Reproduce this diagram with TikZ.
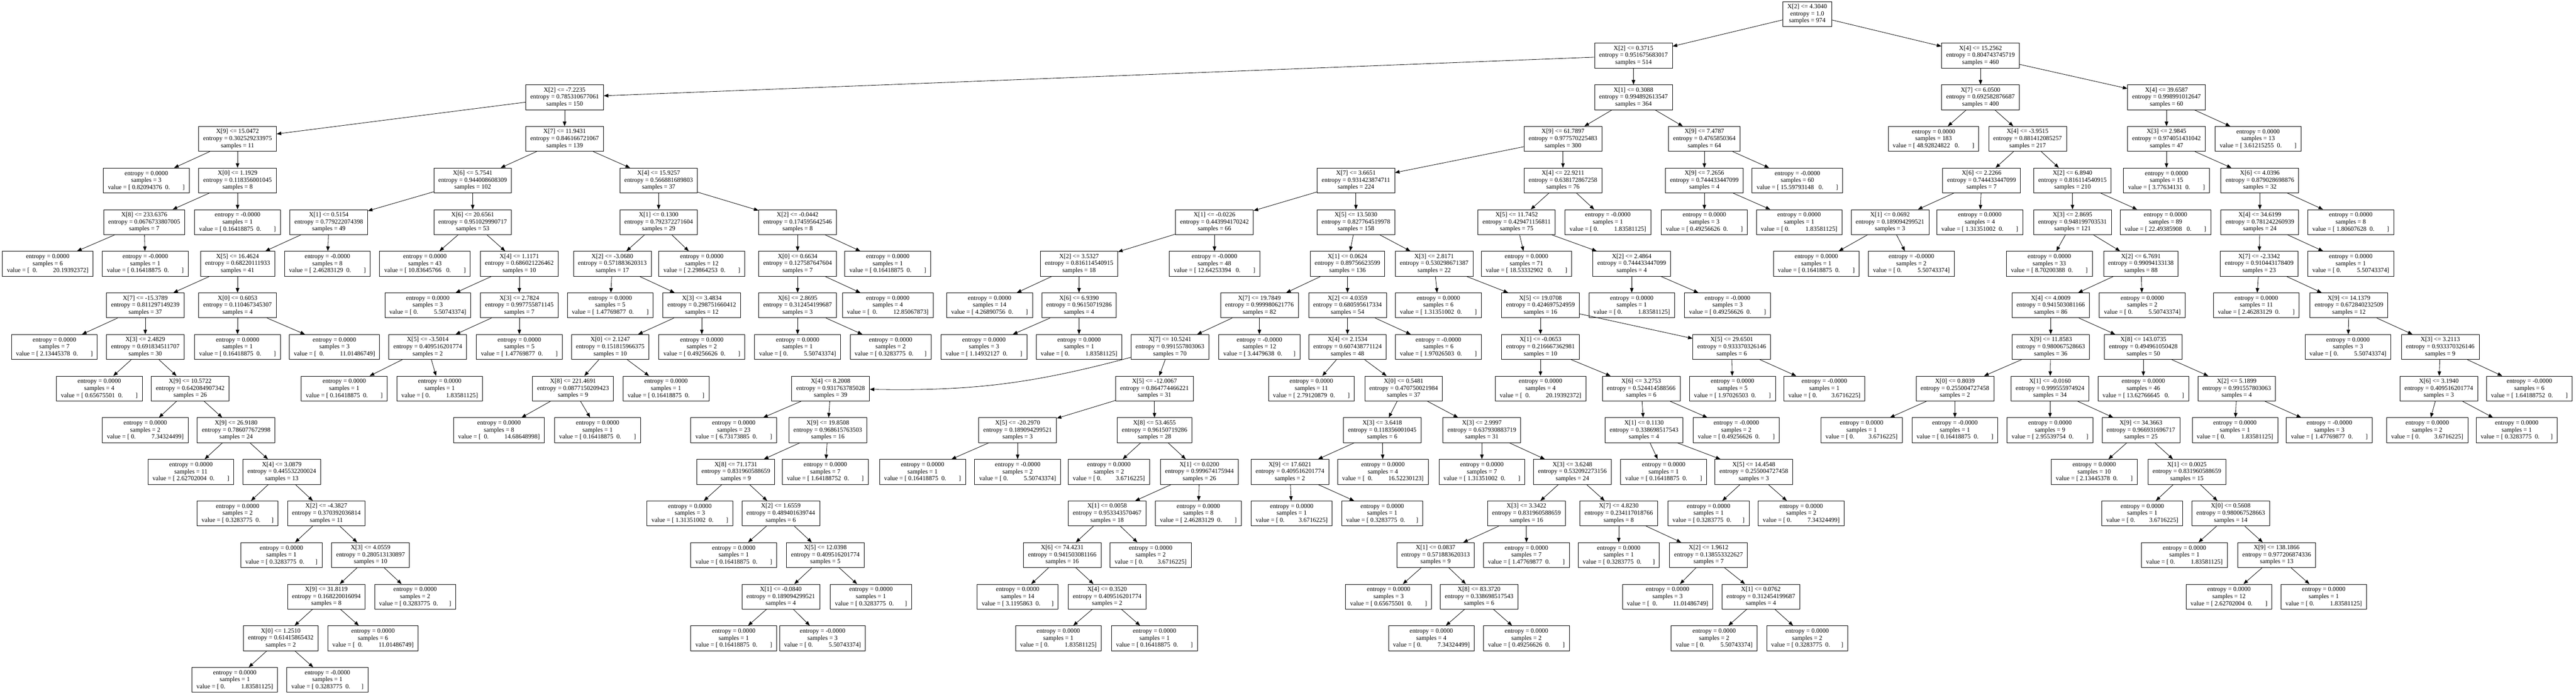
\documentclass[tikz,border=0pt]{standalone}
\usepackage{fontspec}
\setmainfont{Liberation Serif}
\usepackage{xstring}
\usetikzlibrary{arrows.meta}

\tikzset{
  tbox/.style={draw, rectangle, line width=1.3pt, align=center,
    inner xsep=13pt, inner ysep=0pt, minimum height=71pt,
    font=\fontsize{18}{20}\selectfont},
  link/.style={line width=1.2pt, -{Triangle[length=13pt,width=10pt]}}
}

% decision node and leaf node of the tree
\newcommand{\splitnd}[7]{\node[tbox] (#1) at (#2,#3) {X[#4] <= #5\\entropy = #6\\samples = #7};}
\newcommand{\leafnd}[6]{\node[tbox] (#1) at (#2,#3) {entropy = #4\\samples = #5\\value = [#6]};}

\begin{document}
\begin{tikzpicture}[x=1pt, y=-118.6pt]
\useasboundingbox (0,-0.3373) rectangle (7341,16.357);

% level 0 - 2
\splitnd{r}{5150}{0}{2}{4.3040}{1.0}{974}
\splitnd{ra}{4655}{1}{2}{0.3715}{0.951675683017}{514}
\splitnd{rb}{5644}{1}{4}{15.2562}{0.804743745719}{460}
\splitnd{ra1}{1609}{2}{2}{-7.2235}{0.785310677061}{150}
\splitnd{ra2}{4655}{2}{1}{0.3088}{0.994892613547}{364}
\splitnd{rb1}{5644}{2}{7}{6.0500}{0.692582876687}{400}
\splitnd{rb2}{6174}{2}{4}{39.6587}{0.998991012647}{60}

% level 3
\splitnd{ra1a}{677}{3}{9}{15.0472}{0.302529233975}{11}
\splitnd{ra1b}{1609}{3}{7}{11.9431}{0.846166721067}{139}
\splitnd{ra2a}{4454}{3}{9}{61.7897}{0.977570225483}{300}
\splitnd{ra2b}{4857}{3}{9}{7.4787}{0.4765850364}{64}
\leafnd{rb1a}{5510}{3}{0.0000}{183}{~48.92824822~~~0.~~~~~~~~}
\splitnd{rb1b}{5778}{3}{4}{-3.9515}{0.881412085257}{217}
\splitnd{rb2a}{6174}{3}{3}{2.9845}{0.974051431042}{47}
\leafnd{rb2b}{6435}{3}{0.0000}{13}{~3.61215255~~0.~~~~~~~~}

% level 4
\leafnd{ra1a1}{417}{4}{0.0000}{3}{~0.82094376~~0.~~~~~~~~}
\splitnd{ra1a2}{677}{4}{0}{1.1929}{0.118356001045}{8}
\splitnd{ra1b1}{1347}{4}{6}{5.7541}{0.944008608309}{102}
\splitnd{ra1b2}{1877}{4}{4}{15.9257}{0.566881689803}{37}
\splitnd{ra2a1}{3864}{4}{7}{3.6651}{0.931423874711}{224}
\splitnd{ra2a2}{4454}{4}{4}{22.9211}{0.638172867258}{76}
\splitnd{ra2b1}{4857}{4}{9}{7.2656}{0.744433447099}{4}
\leafnd{ra2b2}{5122}{4}{-0.0000}{60}{~15.59793148~~~0.~~~~~~~~}
\splitnd{rb1b1}{5647}{4}{6}{2.2266}{0.744433447099}{7}
\splitnd{rb1b2}{5906}{4}{2}{6.8940}{0.816114540915}{210}
\leafnd{rb2a1}{6174}{4}{0.0000}{15}{~3.77634131~~0.~~~~~~~~}
\splitnd{rb2a2}{6440}{4}{6}{4.0396}{0.879028698876}{32}

% level 5
\splitnd{ra1a2a}{411}{5}{8}{233.6376}{0.0676733807005}{7}
\leafnd{ra1a2b}{677}{5}{-0.0000}{1}{~0.16418875~~0.~~~~~~~~}
\splitnd{ra1b1a}{937}{5}{1}{0.5154}{0.779222074398}{49}
\splitnd{ra1b1b}{1347}{5}{6}{20.6561}{0.951029990717}{53}
\splitnd{ra1b2a}{1877}{5}{1}{0.1300}{0.792372271604}{29}
\splitnd{ra1b2b}{2273}{5}{2}{-0.0442}{0.174595642546}{8}
\splitnd{ra2a1a}{3461}{5}{1}{-0.0226}{0.443994170242}{66}
\splitnd{ra2a1b}{3864}{5}{5}{13.5030}{0.827764519978}{158}
\splitnd{ra2a2a}{4322}{5}{5}{11.7452}{0.429471156811}{75}
\leafnd{ra2a2b}{4582}{5}{-0.0000}{1}{~0.~~~~~~~~~~1.83581125}
\leafnd{ra2b1a}{4857}{5}{0.0000}{3}{~0.49256626~~0.~~~~~~~~}
\leafnd{ra2b1b}{5127}{5}{0.0000}{1}{~0.~~~~~~~~~~1.83581125}
\splitnd{rb1b1a}{5386}{5}{1}{0.0692}{0.189094299521}{3}
\leafnd{rb1b1b}{5642}{5}{0.0000}{4}{~1.31351002~~0.~~~~~~~~}
\splitnd{rb1b2a}{5906}{5}{3}{2.8695}{0.948199703531}{121}
\leafnd{rb1b2b}{6171}{5}{0.0000}{89}{~22.49385908~~~0.~~~~~~~~}
\splitnd{rb2a2a}{6440}{5}{4}{34.6199}{0.781242260939}{24}
\leafnd{rb2a2b}{6699}{5}{0.0000}{8}{~1.80607628~~0.~~~~~~~~}

% level 6
\leafnd{ra1a2a1}{136}{6}{0.0000}{6}{~~0.~~~~~~~~~~20.19392372}
\leafnd{ra1a2a2}{414}{6}{-0.0000}{1}{~0.16418875~~0.~~~~~~~~}
\splitnd{ra1b1a1}{677}{6}{5}{16.4624}{0.68220111933}{41}
\leafnd{ra1b1a2}{933}{6}{-0.0000}{8}{~2.46283129~~0.~~~~~~~~}
\leafnd{ra1b1b1}{1211}{6}{0.0000}{43}{~10.83645766~~~0.~~~~~~~~}
\splitnd{ra1b1b2}{1480}{6}{4}{1.1171}{0.686021226462}{10}
\splitnd{ra1b2a1}{1745}{6}{2}{-3.0680}{0.571883620313}{17}
\leafnd{ra1b2a2}{2000}{6}{0.0000}{12}{~2.29864253~~0.~~~~~~~~}
\splitnd{ra1b2b1}{2273}{6}{0}{0.6634}{0.127587647604}{7}
\leafnd{ra1b2b2}{2530}{6}{0.0000}{1}{~0.16418875~~0.~~~~~~~~}
\splitnd{ra2a1a1}{3075}{6}{2}{3.5327}{0.816114540915}{18}
\leafnd{ra2a1a2}{3461}{6}{-0.0000}{48}{~12.64253394~~~0.~~~~~~~~}
\splitnd{ra2a1b1}{3840}{6}{1}{0.0624}{0.89756623599}{136}
\splitnd{ra2a1b2}{4087}{6}{3}{2.8171}{0.530298671387}{22}
\leafnd{ra2a2a1}{4350}{6}{0.0000}{71}{~18.53332902~~~0.~~~~~~~~}
\splitnd{ra2a2a2}{4650}{6}{2}{2.4864}{0.744433447099}{4}
\leafnd{rb1b1a1}{5176}{6}{0.0000}{1}{~0.16418875~~0.~~~~~~~~}
\leafnd{rb1b1a2}{5447}{6}{-0.0000}{2}{~0.~~~~~~~~~~5.50743374}
\leafnd{rb1b2a1}{5840}{6}{0.0000}{33}{~8.70200388~~0.~~~~~~~~}
\splitnd{rb1b2a2}{6101}{6}{2}{6.7691}{0.99094133138}{88}
\splitnd{rb2a2a1}{6438}{6}{7}{-2.3342}{0.910443178409}{23}
\leafnd{rb2a2a2}{6699}{6}{0.0000}{1}{~0.~~~~~~~~~~5.50743374}

% level 7
\splitnd{ra1b1a1a}{414}{7}{7}{-15.3789}{0.811297149239}{37}
\splitnd{ra1b1a1b}{677}{7}{0}{0.6053}{0.110467345307}{4}
\leafnd{ra1b1b2a}{1219}{7}{0.0000}{3}{~0.~~~~~~~~~~5.50743374}
\splitnd{ra1b1b2b}{1480}{7}{3}{2.7824}{0.997755871145}{7}
\leafnd{ra1b2a1a}{1739}{7}{0.0000}{5}{~1.47769877~~0.~~~~~~~~}
\splitnd{ra1b2a1b}{2000}{7}{3}{3.4834}{0.298751660412}{12}
\splitnd{ra1b2b1a}{2273}{7}{6}{2.8695}{0.312454199687}{3}
\leafnd{ra1b2b1b}{2530}{7}{0.0000}{4}{~~0.~~~~~~~~~~12.85067873}
\leafnd{ra2a1a1a}{2820}{7}{0.0000}{14}{~4.26890756~~0.~~~~~~~~}
\splitnd{ra2a1a1b}{3075}{7}{6}{6.9390}{0.96150719286}{4}
\splitnd{ra2a1b1a}{3589}{7}{7}{19.7849}{0.999980621776}{82}
\splitnd{ra2a1b1b}{3840}{7}{2}{4.0359}{0.680595617334}{54}
\leafnd{ra2a1b2a}{4099}{7}{0.0000}{6}{~1.31351002~~0.~~~~~~~~}
\splitnd{ra2a1b2b}{4390}{7}{5}{19.0708}{0.424697524959}{16}
\leafnd{ra2a2a2a}{4650}{7}{0.0000}{1}{~0.~~~~~~~~~~1.83581125}
\leafnd{ra2a2a2b}{4923}{7}{-0.0000}{3}{~0.49256626~~0.~~~~~~~~}
\splitnd{rb1b2a2a}{5844}{7}{4}{4.0009}{0.941503081166}{86}
\leafnd{rb1b2a2b}{6105}{7}{0.0000}{2}{~0.~~~~~~~~~~5.50743374}
\leafnd{rb2a2a1a}{6430}{7}{0.0000}{11}{~2.46283129~~0.~~~~~~~~}
\splitnd{rb2a2a1b}{6694}{7}{9}{14.1379}{0.672840232509}{12}

% level 8
\leafnd{ra1b1a1a1}{155}{8}{0.0000}{7}{~2.13445378~~0.~~~~~~~~}
\splitnd{ra1b1a1a2}{414}{8}{3}{2.4829}{0.691834511707}{30}
\leafnd{ra1b1a1b1}{677}{8}{0.0000}{1}{~0.16418875~~0.~~~~~~~~}
\leafnd{ra1b1a1b2}{953}{8}{0.0000}{3}{~~0.~~~~~~~~~~11.01486749}
\splitnd{ra1b1b2b1}{1219}{8}{5}{-3.5014}{0.409516201774}{2}
\leafnd{ra1b1b2b2}{1480}{8}{0.0000}{5}{~1.47769877~~0.~~~~~~~~}
\splitnd{ra1b2a1b1}{1739}{8}{0}{2.1247}{0.151815966375}{10}
\leafnd{ra1b2a1b2}{2000}{8}{0.0000}{2}{~0.49256626~~0.~~~~~~~~}
\leafnd{ra1b2b1a1}{2273}{8}{0.0000}{1}{~0.~~~~~~~~~~5.50743374}
\leafnd{ra1b2b1a2}{2538}{8}{0.0000}{2}{~0.3283775~~0.~~~~~~~}
\leafnd{ra2a1a1b1}{2804}{8}{0.0000}{3}{~1.14932127~~0.~~~~~~~~}
\leafnd{ra2a1a1b2}{3075}{8}{0.0000}{1}{~0.~~~~~~~~~~1.83581125}
\splitnd{ra2a1b1a1}{3334}{8}{7}{10.5241}{0.991557803063}{70}
\leafnd{ra2a1b1a2}{3589}{8}{-0.0000}{12}{~3.4479638~~0.~~~~~~~}
\splitnd{ra2a1b1b1}{3840}{8}{4}{2.1534}{0.607438771124}{48}
\leafnd{ra2a1b1b2}{4099}{8}{-0.0000}{6}{~1.97026503~~0.~~~~~~~~}
\splitnd{ra2a1b2b1}{4390}{8}{1}{-0.0653}{0.216667362981}{10}
\splitnd{ra2a1b2b2}{4935}{8}{5}{29.6501}{0.933370326146}{6}
\splitnd{rb1b2a2a1}{5844}{8}{9}{11.8583}{0.980067528663}{36}
\splitnd{rb1b2a2a2}{6108}{8}{8}{143.0735}{0.494961050428}{50}
\leafnd{rb2a2a1b1}{6691}{8}{0.0000}{3}{~0.~~~~~~~~~~5.50743374}
\splitnd{rb2a2a1b2}{6954}{8}{3}{3.2113}{0.933370326146}{9}

% level 9
\leafnd{ra1b1a1a2a}{283}{9}{0.0000}{4}{~0.65675501~~0.~~~~~~~~}
\splitnd{ra1b1a1a2b}{542}{9}{9}{10.5722}{0.642084907342}{26}
\leafnd{ra1b1b2b1a}{981}{9}{0.0000}{1}{~0.16418875~~0.~~~~~~~~}
\leafnd{ra1b1b2b1b}{1253}{9}{0.0000}{1}{~0.~~~~~~~~~~1.83581125}
\splitnd{ra1b2a1b1a}{1633}{9}{8}{221.4691}{0.0877150209423}{9}
\leafnd{ra1b2a1b1b}{1898}{9}{0.0000}{1}{~0.16418875~~0.~~~~~~~~}
\splitnd{ra2a1b1a1a}{2367}{9}{4}{8.2008}{0.931763785028}{39}
\splitnd{ra2a1b1a1b}{3290}{9}{5}{-12.0067}{0.864774466221}{31}
\leafnd{ra2a1b1b1a}{3737}{9}{0.0000}{11}{~2.79120879~~0.~~~~~~~~}
\splitnd{ra2a1b1b1b}{4000}{9}{0}{0.5481}{0.470750021984}{37}
\leafnd{ra2a1b2b1a}{4390}{9}{0.0000}{4}{~~0.~~~~~~~~~~20.19392372}
\splitnd{ra2a1b2b1b}{4677}{9}{6}{3.2753}{0.524414588566}{6}
\leafnd{ra2a1b2b2a}{4937}{9}{0.0000}{5}{~1.97026503~~0.~~~~~~~~}
\leafnd{ra2a1b2b2b}{5199}{9}{-0.0000}{1}{~0.~~~~~~~~~3.6716225}
\splitnd{rb1b2a2a1a}{5571}{9}{0}{0.8039}{0.255004727458}{2}
\splitnd{rb1b2a2a1b}{5842}{9}{1}{-0.0160}{0.999555974924}{34}
\leafnd{rb1b2a2a2a}{6108}{9}{0.0000}{46}{~13.62766645~~~0.~~~~~~~~}
\splitnd{rb1b2a2a2b}{6374}{9}{2}{5.1899}{0.991557803063}{4}
\splitnd{rb2a2a1b2a}{6950}{9}{6}{3.1940}{0.409516201774}{3}
\leafnd{rb2a2a1b2b}{7208}{9}{-0.0000}{6}{~1.64188752~~0.~~~~~~~~}

% level 10
\leafnd{ra1b1a1a2b1}{414}{10}{0.0000}{2}{~0.~~~~~~~~~~7.34324499}
\splitnd{ra1b1a1a2b2}{673}{10}{9}{26.9180}{0.786077672998}{24}
\leafnd{ra1b2a1b1a1}{1422}{10}{0.0000}{8}{~~0.~~~~~~~~~~14.68648998}
\leafnd{ra1b2a1b1a2}{1703}{10}{0.0000}{1}{~0.16418875~~0.~~~~~~~~}
\leafnd{ra2a1b1a1a1}{2091}{10}{0.0000}{23}{~6.73173885~~0.~~~~~~~~}
\splitnd{ra2a1b1a1a2}{2359}{10}{9}{19.8508}{0.968615763503}{16}
\splitnd{ra2a1b1a1b1}{2900}{10}{5}{-20.2970}{0.189094299521}{3}
\splitnd{ra2a1b1a1b2}{3290}{10}{8}{53.4655}{0.96150719286}{28}
\splitnd{ra2a1b1b1b1}{3939}{10}{3}{3.6418}{0.118356001045}{6}
\splitnd{ra2a1b1b1b2}{4223}{10}{3}{2.9997}{0.637930883719}{31}
\splitnd{ra2a1b2b1b1}{4685}{10}{1}{0.1130}{0.338698517543}{4}
\leafnd{ra2a1b2b1b2}{4948}{10}{-0.0000}{2}{~0.49256626~~0.~~~~~~~~}
\leafnd{rb1b2a2a1a1}{5305}{10}{0.0000}{1}{~0.~~~~~~~~~3.6716225}
\leafnd{rb1b2a2a1a2}{5571}{10}{-0.0000}{1}{~0.16418875~~0.~~~~~~~~}
\leafnd{rb1b2a2a1b1}{5842}{10}{0.0000}{9}{~2.95539754~~0.~~~~~~~~}
\splitnd{rb1b2a2a1b2}{6101}{10}{9}{34.3663}{0.966931696717}{25}
\leafnd{rb1b2a2a2b1}{6369}{10}{0.0000}{1}{~0.~~~~~~~~~~1.83581125}
\leafnd{rb1b2a2a2b2}{6638}{10}{-0.0000}{3}{~1.47769877~~0.~~~~~~~~}
\leafnd{rb2a2a1b2a1}{6917}{10}{0.0000}{2}{~0.~~~~~~~~~3.6716225}
\leafnd{rb2a2a1b2a2}{7172}{10}{0.0000}{1}{~0.3283775~~0.~~~~~~~}

% level 11
\leafnd{ra1b1a1a2b2a}{544}{11}{0.0000}{11}{~2.62702004~~0.~~~~~~~~}
\splitnd{ra1b1a1a2b2b}{803}{11}{4}{3.0879}{0.445532200024}{13}
\splitnd{ra2a1b1a1a2a}{2097}{11}{8}{71.1731}{0.831960588659}{9}
\leafnd{ra2a1b1a1a2b}{2352}{11}{0.0000}{7}{~1.64188752~~0.~~~~~~~~}
\leafnd{ra2a1b1a1b1a}{2629}{11}{0.0000}{1}{~0.16418875~~0.~~~~~~~~}
\leafnd{ra2a1b1a1b1b}{2900}{11}{-0.0000}{2}{~0.~~~~~~~~~~5.50743374}
\leafnd{ra2a1b1a1b2a}{3160}{11}{0.0000}{2}{~0.~~~~~~~~~3.6716225}
\splitnd{ra2a1b1a1b2b}{3418}{11}{1}{0.0200}{0.999674175944}{26}
\splitnd{ra2a1b1b1b1a}{3676}{11}{9}{17.6021}{0.409516201774}{2}
\leafnd{ra2a1b1b1b1b}{3941}{11}{0.0000}{4}{~~0.~~~~~~~~~~16.52230123}
\leafnd{ra2a1b1b1b2a}{4223}{11}{0.0000}{7}{~1.31351002~~0.~~~~~~~~}
\splitnd{ra2a1b1b1b2b}{4481}{11}{3}{3.6248}{0.532092273156}{24}
\leafnd{ra2a1b2b1b1a}{4741}{11}{0.0000}{1}{~0.16418875~~0.~~~~~~~~}
\splitnd{ra2a1b2b1b1b}{4998}{11}{5}{14.4548}{0.255004727458}{3}
\leafnd{rb1b2a2a1b2a}{5968}{11}{0.0000}{10}{~2.13445378~~0.~~~~~~~~}
\splitnd{rb1b2a2a1b2b}{6232}{11}{1}{0.0025}{0.831960588659}{15}

% level 12
\leafnd{ra1b1a1a2b2b1}{677}{12}{0.0000}{2}{~0.3283775~~0.~~~~~~~}
\splitnd{ra1b1a1a2b2b2}{930}{12}{2}{-4.3827}{0.370392036814}{11}
\leafnd{ra2a1b1a1a2a1}{1966}{12}{0.0000}{3}{~1.31351002~~0.~~~~~~~~}
\splitnd{ra2a1b1a1a2a2}{2225}{12}{2}{1.6559}{0.489401639744}{6}
\splitnd{ra2a1b1a1b2b1}{3155}{12}{1}{0.0058}{0.953343570467}{18}
\leafnd{ra2a1b1a1b2b2}{3415}{12}{0.0000}{8}{~2.46283129~~0.~~~~~~~~}
\leafnd{ra2a1b1b1b1a1}{3681}{12}{0.0000}{1}{~0.~~~~~~~~~3.6716225}
\leafnd{ra2a1b1b1b1a2}{3939}{12}{0.0000}{1}{~0.3283775~~0.~~~~~~~}
\splitnd{ra2a1b1b1b2b1}{4350}{12}{3}{3.3422}{0.831960588659}{16}
\splitnd{ra2a1b1b1b2b2}{4613}{12}{7}{4.8230}{0.234117018766}{8}
\leafnd{ra2a1b2b1b1b1}{4869}{12}{0.0000}{1}{~0.3283775~~0.~~~~~~~}
\leafnd{ra2a1b2b1b1b2}{5133}{12}{0.0000}{2}{~0.~~~~~~~~~~7.34324499}
\leafnd{rb1b2a2a1b2b1}{6105}{12}{0.0000}{1}{~0.~~~~~~~~~3.6716225}
\splitnd{rb1b2a2a1b2b2}{6357}{12}{0}{0.5608}{0.980067528663}{14}

% level 13
\leafnd{ra1b1a1a2b2b2a}{802}{13}{0.0000}{1}{~0.3283775~~0.~~~~~~~}
\splitnd{ra1b1a1a2b2b2b}{1056}{13}{3}{4.0559}{0.280513130897}{10}
\leafnd{ra2a1b1a1a2a2a}{2091}{13}{0.0000}{1}{~0.16418875~~0.~~~~~~~~}
\splitnd{ra2a1b1a1a2a2b}{2352}{13}{5}{12.0398}{0.409516201774}{5}
\splitnd{ra2a1b1a1b2b1a}{3027}{13}{6}{74.4231}{0.941503081166}{16}
\leafnd{ra2a1b1a1b2b1b}{3279}{13}{0.0000}{2}{~0.~~~~~~~~~3.6716225}
\splitnd{ra2a1b1b1b2b1a}{4091}{13}{1}{0.0837}{0.571883620313}{9}
\leafnd{ra2a1b1b1b2b1b}{4350}{13}{0.0000}{7}{~1.47769877~~0.~~~~~~~~}
\leafnd{ra2a1b1b1b2b2a}{4613}{13}{0.0000}{1}{~0.3283775~~0.~~~~~~~}
\splitnd{ra2a1b1b1b2b2b}{4869}{13}{2}{1.9612}{0.138553322627}{7}
\leafnd{rb1b2a2a1b2b2a}{6225}{13}{0.0000}{1}{~0.~~~~~~~~~~1.83581125}
\splitnd{rb1b2a2a1b2b2b}{6488}{13}{9}{138.1866}{0.977206874336}{13}

% level 14
\splitnd{ra1b1a1a2b2b2b1}{930}{14}{9}{31.8119}{0.168220016094}{8}
\leafnd{ra1b1a1a2b2b2b2}{1183}{14}{0.0000}{2}{~0.3283775~~0.~~~~~~~}
\splitnd{ra2a1b1a1a2a2b1}{2225}{14}{1}{-0.0840}{0.189094299521}{4}
\leafnd{ra2a1b1a1a2a2b2}{2482}{14}{0.0000}{1}{~0.3283775~~0.~~~~~~~}
\leafnd{ra2a1b1a1b2b1a1}{2900}{14}{0.0000}{14}{~3.1195863~~0.~~~~~~~}
\splitnd{ra2a1b1a1b2b1a2}{3155}{14}{4}{0.3520}{0.409516201774}{2}
\leafnd{ra2a1b1b1b2b1a1}{3957}{14}{0.0000}{3}{~0.65675501~~0.~~~~~~~~}
\splitnd{ra2a1b1b1b2b1a2}{4215}{14}{8}{83.3720}{0.338698517543}{6}
\leafnd{ra2a1b1b1b2b2b1}{4752}{14}{0.0000}{3}{~~0.~~~~~~~~~~11.01486749}
\splitnd{ra2a1b1b1b2b2b2}{5018}{14}{1}{0.0762}{0.312454199687}{4}
\leafnd{rb1b2a2a1b2b2b1}{6352}{14}{0.0000}{12}{~2.62702004~~0.~~~~~~~~}
\leafnd{rb1b2a2a1b2b2b2}{6622}{14}{0.0000}{1}{~0.~~~~~~~~~~1.83581125}

% level 15 - 16
\splitnd{ra1b1a1a2b2b2b1a}{800}{15}{0}{1.2510}{0.61415865432}{2}
\leafnd{ra1b1a1a2b2b2b1b}{1063}{15}{0.0000}{6}{~~0.~~~~~~~~~~11.01486749}
\leafnd{ra2a1b1a1a2a2b1a}{2091}{15}{0.0000}{1}{~0.16418875~~0.~~~~~~~~}
\leafnd{ra2a1b1a1a2a2b1b}{2344}{15}{-0.0000}{3}{~0.~~~~~~~~~~5.50743374}
\leafnd{ra2a1b1a1b2b1a2a}{3016}{15}{0.0000}{1}{~0.~~~~~~~~~~1.83581125}
\leafnd{ra2a1b1a1b2b1a2b}{3290}{15}{0.0000}{1}{~0.16418875~~0.~~~~~~~~}
\leafnd{ra2a1b1b1b2b1a2a}{4079}{15}{0.0000}{4}{~0.~~~~~~~~~~7.34324499}
\leafnd{ra2a1b1b1b2b1a2b}{4350}{15}{0.0000}{2}{~0.49256626~~0.~~~~~~~~}
\leafnd{ra2a1b1b1b2b2b2a}{4885}{15}{0.0000}{2}{~0.~~~~~~~~~~5.50743374}
\leafnd{ra2a1b1b1b2b2b2b}{5150}{15}{0.0000}{2}{~0.3283775~~0.~~~~~~~}
\leafnd{ra1b1a1a2b2b2b1a1}{669}{16}{0.0000}{1}{~0.~~~~~~~~~~1.83581125}
\leafnd{ra1b1a1a2b2b2b1a2}{933}{16}{-0.0000}{1}{~0.3283775~~0.~~~~~~~}

% connectors: the parent is the name without its last letter
\foreach \c in {ra,rb,ra1,ra2,rb1,rb2,
  ra1a,ra1b,ra2a,ra2b,rb1a,rb1b,rb2a,rb2b,
  ra1a1,ra1a2,ra1b1,ra1b2,ra2a1,ra2a2,ra2b1,ra2b2,rb1b1,rb1b2,rb2a1,rb2a2,
  ra1a2a,ra1a2b,ra1b1a,ra1b1b,ra1b2a,ra1b2b,ra2a1a,ra2a1b,ra2a2a,ra2a2b,ra2b1a,ra2b1b,rb1b1a,rb1b1b,rb1b2a,rb1b2b,rb2a2a,rb2a2b,
  ra1a2a1,ra1a2a2,ra1b1a1,ra1b1a2,ra1b1b1,ra1b1b2,ra1b2a1,ra1b2a2,ra1b2b1,ra1b2b2,ra2a1a1,ra2a1a2,ra2a1b1,ra2a1b2,ra2a2a1,ra2a2a2,rb1b1a1,rb1b1a2,rb1b2a1,rb1b2a2,rb2a2a1,rb2a2a2,
  ra1b1a1a,ra1b1a1b,ra1b1b2a,ra1b1b2b,ra1b2a1a,ra1b2a1b,ra1b2b1a,ra1b2b1b,ra2a1a1a,ra2a1a1b,ra2a1b1a,ra2a1b1b,ra2a1b2a,ra2a1b2b,ra2a2a2a,ra2a2a2b,rb1b2a2a,rb1b2a2b,rb2a2a1a,rb2a2a1b,
  ra1b1a1a1,ra1b1a1a2,ra1b1a1b1,ra1b1a1b2,ra1b1b2b1,ra1b1b2b2,ra1b2a1b1,ra1b2a1b2,ra1b2b1a1,ra1b2b1a2,ra2a1a1b1,ra2a1a1b2,ra2a1b1a1,ra2a1b1a2,ra2a1b1b1,ra2a1b1b2,ra2a1b2b1,ra2a1b2b2,rb1b2a2a1,rb1b2a2a2,rb2a2a1b1,rb2a2a1b2,
  ra1b1a1a2a,ra1b1a1a2b,ra1b1b2b1a,ra1b1b2b1b,ra1b2a1b1a,ra1b2a1b1b,ra2a1b1a1b,ra2a1b1b1a,ra2a1b1b1b,ra2a1b2b1a,ra2a1b2b1b,ra2a1b2b2a,ra2a1b2b2b,rb1b2a2a1a,rb1b2a2a1b,rb1b2a2a2a,rb1b2a2a2b,rb2a2a1b2a,rb2a2a1b2b,
  ra1b1a1a2b1,ra1b1a1a2b2,ra1b2a1b1a1,ra1b2a1b1a2,ra2a1b1a1a1,ra2a1b1a1a2,ra2a1b1a1b1,ra2a1b1a1b2,ra2a1b1b1b1,ra2a1b1b1b2,ra2a1b2b1b1,ra2a1b2b1b2,rb1b2a2a1a1,rb1b2a2a1a2,rb1b2a2a1b1,rb1b2a2a1b2,rb1b2a2a2b1,rb1b2a2a2b2,rb2a2a1b2a1,rb2a2a1b2a2,
  ra1b1a1a2b2a,ra1b1a1a2b2b,ra2a1b1a1a2a,ra2a1b1a1a2b,ra2a1b1a1b1a,ra2a1b1a1b1b,ra2a1b1a1b2a,ra2a1b1a1b2b,ra2a1b1b1b1a,ra2a1b1b1b1b,ra2a1b1b1b2a,ra2a1b1b1b2b,ra2a1b2b1b1a,ra2a1b2b1b1b,rb1b2a2a1b2a,rb1b2a2a1b2b,
  ra1b1a1a2b2b1,ra1b1a1a2b2b2,ra2a1b1a1a2a1,ra2a1b1a1a2a2,ra2a1b1a1b2b1,ra2a1b1a1b2b2,ra2a1b1b1b1a1,ra2a1b1b1b1a2,ra2a1b1b1b2b1,ra2a1b1b1b2b2,ra2a1b2b1b1b1,ra2a1b2b1b1b2,rb1b2a2a1b2b1,rb1b2a2a1b2b2,
  ra1b1a1a2b2b2a,ra1b1a1a2b2b2b,ra2a1b1a1a2a2a,ra2a1b1a1a2a2b,ra2a1b1a1b2b1a,ra2a1b1a1b2b1b,ra2a1b1b1b2b1a,ra2a1b1b1b2b1b,ra2a1b1b1b2b2a,ra2a1b1b1b2b2b,rb1b2a2a1b2b2a,rb1b2a2a1b2b2b,
  ra1b1a1a2b2b2b1,ra1b1a1a2b2b2b2,ra2a1b1a1a2a2b1,ra2a1b1a1a2a2b2,ra2a1b1a1b2b1a1,ra2a1b1a1b2b1a2,ra2a1b1b1b2b1a1,ra2a1b1b1b2b1a2,ra2a1b1b1b2b2b1,ra2a1b1b1b2b2b2,rb1b2a2a1b2b2b1,rb1b2a2a1b2b2b2,
  ra1b1a1a2b2b2b1a,ra1b1a1a2b2b2b1b,ra2a1b1a1a2a2b1a,ra2a1b1a1a2a2b1b,ra2a1b1a1b2b1a2a,ra2a1b1a1b2b1a2b,ra2a1b1b1b2b1a2a,ra2a1b1b1b2b1a2b,ra2a1b1b1b2b2b2a,ra2a1b1b1b2b2b2b,
  ra1b1a1a2b2b2b1a1,ra1b1a1a2b2b2b1a2}
  {\StrGobbleRight{\c}{1}[\pn]\draw[link] (\pn) -- (\c);}
% the one bent connector
\draw[link] (ra2a1b1a1) to[bend left=8] (ra2a1b1a1a);
\end{tikzpicture}
\end{document}
